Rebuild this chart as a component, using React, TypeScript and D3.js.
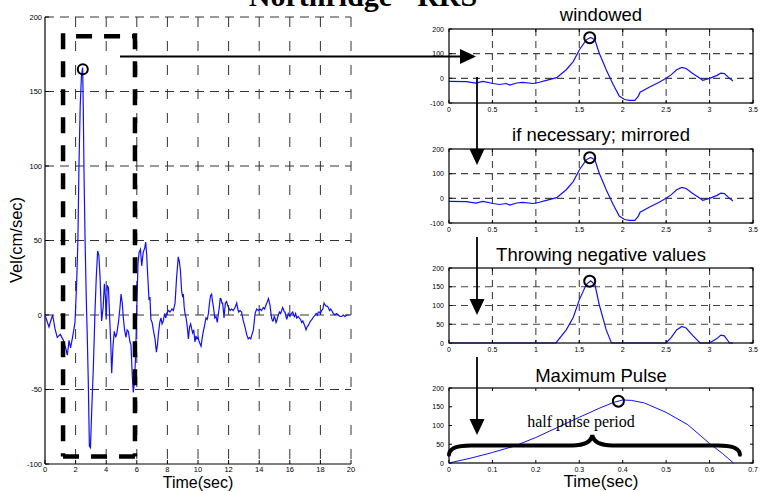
import React from "react";
import * as d3 from "d3";

// ---- data ----
const velTime = [
  0, 0.26, 0.4, 0.5, 0.65, 0.8, 1.0, 1.2, 1.35, 1.46, 1.57, 1.67, 1.8, 1.96, 2.07, 2.15, 2.22, 2.3, 2.38, 2.46,
  2.5, 2.55, 2.62, 2.7, 2.76, 2.83, 2.9, 2.97, 3.05, 3.16, 3.27, 3.35, 3.44, 3.52, 3.6, 3.7, 3.8, 3.88, 3.95, 4.0,
  4.07, 4.15, 4.22, 4.3, 4.36, 4.45, 4.53, 4.62, 4.7, 4.8, 4.9, 4.97, 5.05, 5.12, 5.2, 5.29, 5.37, 5.45, 5.55, 5.62,
  5.7, 5.77, 5.85, 5.93, 6.0, 6.08, 6.15, 6.24, 6.32, 6.42, 6.52, 6.58, 6.65, 6.71, 6.8, 6.86, 6.92, 7.0, 7.08, 7.19,
  7.28, 7.35, 7.41, 7.5, 7.58, 7.65, 7.73, 7.82, 7.9, 7.95, 8.08, 8.17, 8.3, 8.39, 8.5, 8.6, 8.71, 8.78, 8.85, 8.93,
  9.0, 9.04, 9.1, 9.15, 9.22, 9.3, 9.37, 9.45, 9.52, 9.58, 9.65, 9.72, 9.8, 9.87, 9.93, 10.0, 10.08, 10.2, 10.28, 10.35,
  10.45, 10.52, 10.6, 10.68, 10.75, 10.82, 10.89, 10.95, 11.0, 11.1, 11.18, 11.26, 11.32, 11.39, 11.45, 11.5, 11.56, 11.61, 11.67, 11.7,
  11.75, 11.79, 11.87, 11.95, 12.1, 12.2, 12.3, 12.42, 12.53, 12.6, 12.66, 12.75, 12.85, 12.96, 13.07, 13.18, 13.28, 13.36, 13.45, 13.5,
  13.62, 13.68, 13.73, 13.83, 13.94, 14.05, 14.15, 14.27, 14.35, 14.42, 14.5, 14.6, 14.65, 14.7, 14.76, 14.81, 14.87, 14.92, 14.98, 15.03,
  15.1, 15.14, 15.22, 15.32, 15.4, 15.47, 15.53, 15.58, 15.64, 15.69, 15.75, 15.8, 15.85, 15.9, 16.01, 16.1, 16.19, 16.25, 16.3, 16.38,
  16.45, 16.55, 16.62, 16.7, 16.78, 16.85, 16.93, 17.0, 17.06, 17.13, 17.21, 17.3, 17.36, 17.45, 17.5, 17.58, 17.65, 17.72, 17.8, 17.87,
  17.93, 18.0, 18.08, 18.16, 18.24, 18.3, 18.37, 18.45, 18.52, 18.6, 18.67, 18.74, 18.85, 18.95, 19.05, 19.17, 19.28, 19.39, 19.5, 19.6,
  19.75, 19.89,
];
const velValue = [
  0, -8, -3, 0, -9, -15, -13, -17, -22, -27, -17, -22, -15, -5, 22, 50, 100, 140, 160, 166,
  140, 95, 50, 10, -13, -45, -88, -89, -65, -35, 3, 25, 43, 40, 25, -4, 5, 21, 12, -3,
  20, 18, 0, -20, -39, -20, -11, -15, -12, -5, 5, 14, 8, -2, -10, -15, -10, -11, -18, -20,
  -40, -52, -45, -25, 5, 35, 42, 44, 33, 42, 45, 49, 40, 27, 10, 12, -3, -5, -10, -16,
  -25, -20, -13, -5, -2, -6, -4, 1, -2, 1, 3, 2, 4, 3, 8, 25, 39, 36, 30, 16,
  12, 14, 5, 1, -2, -8, -16, -8, -6, -9, -12, -10, -18, -14, -16, -15, -18, -21, -15, -11,
  -6, -2, -3, 1, 8, 13, 14, 9, 6, -2, -1, -5, 0, 5, 11, 11, 8, 8, 2, -2,
  4, 8, 9, 6, 3, 4, 3, 5, 8, 4, 2, 3, 2, -4, -8, -13, -16, -15, -16, -14,
  -10, -4, 1, 4, 3, 4, 3, 5, 4, 6, 8, 11, 9, 7, 2, -2, -4, -4, -1, -2,
  -5, -4, -1, 2, 1, 3, 5, 4, 2, 2, -1, -3, -1, 1, -1, 1, 2, 0, -1, 1,
  -2, -1, -2, -3, -5, -4, -6, -8, -10, -8, -7, -5, -4, -3, -2, -1, 0, 1, 0, 2,
  2, 1, 3, 4, 8, 7, 6, 6, 5, 3, 4, 3, 1, 0, 1, 0, -1, -1, 0, -1,
  0, 0,
];

const winTime = [
  0, 0.2, 0.31, 0.39, 0.51, 0.58, 0.66, 0.7, 0.78, 0.85, 0.97, 1.04, 1.12, 1.24, 1.35, 1.43, 1.5, 1.58, 1.63, 1.68,
  1.73, 1.81, 1.89, 1.96, 2.02, 2.08, 2.14, 2.18, 2.2, 2.31, 2.42, 2.5, 2.56, 2.62, 2.68, 2.73, 2.81, 2.89, 2.92, 3.0,
  3.08, 3.13, 3.17, 3.23, 3.27,
];
const winValue = [
  -12, -13, -19, -12, -21, -25, -21, -27, -19, -16, -21, -16, -8, 3, 35, 68, 115, 156, 166, 156,
  102, 35, -25, -72, -86, -89, -89, -72, -56, -35, -16, 0, 15, 35, 44, 40, 19, 0, -8, 0,
  11, 21, 19, 0, -11,
];
// negative values thrown away (zero crossings kept)
const posTime = [0, 1.23, 1.24, 1.35, 1.43, 1.5, 1.58, 1.63, 1.68, 1.73, 1.81, 1.87, 2.5, 2.56, 2.62, 2.68, 2.73, 2.81, 2.89, 3.0, 3.08, 3.13, 3.17, 3.23, 3.27];
const posValue = [0, 0, 3, 35, 68, 115, 156, 166, 156, 102, 35, 0, 0, 15, 35, 44, 40, 19, 0, 0, 11, 21, 19, 0, 0];

const pulseTime = [0, 0.05, 0.1, 0.15, 0.2, 0.25, 0.3, 0.35, 0.38, 0.4, 0.42, 0.45, 0.5, 0.55, 0.6, 0.63, 0.655];
const pulseValue = [0, 13, 28, 45, 68, 95, 122, 148, 162, 168, 167, 160, 135, 102, 52, 25, 0];

const leftXTicks = [0, 2, 4, 6, 8, 10, 12, 14, 16, 18, 20];
const leftYTicks = [-100, -50, 0, 50, 100, 150, 200];
const winXTicks = [0, 0.5, 1, 1.5, 2, 2.5, 3, 3.5];
const winYTicks = [-100, 0, 100, 200];
const posYTicks = [0, 50, 100, 150, 200];
const pulseXTicks = [0, 0.1, 0.2, 0.3, 0.4, 0.5, 0.6, 0.7];

const leftPeak = [2.47, 165];
const winPeak = [1.62, 165];
const pulsePeak = [0.39, 165];
const windowBox = [1.18, 5.88, -95, 187]; // t0, t1, vBottom, vTop

const sans = "'Liberation Sans', Arial, sans-serif";
const serif = "'Liberation Serif', 'Times New Roman', serif";
const BLUE = "#1010ff";

function LeftPanel() {
  const x = d3.scaleLinear().domain([0, 20]).range([45, 351]);
  const y = d3.scaleLinear().domain([-100, 200]).range([464, 17]);
  const line = d3.line<number>().x((d, i) => x(velTime[i])).y((d) => y(d));
  const [t0, t1, vb, vt] = windowBox;
  const thick = { stroke: "#000", strokeWidth: 4.5, strokeDasharray: "16,12", fill: "none" };
  return (
    <g>
      {/* grid */}
      {leftXTicks.slice(1).map((t) => (
        <line key={"gx" + t} x1={x(t)} x2={x(t)} y1={y(200)} y2={y(-100)} stroke="#333" strokeWidth={1} strokeDasharray="10,14" />
      ))}
      {leftYTicks.slice(1).map((v) => (
        <line key={"gy" + v} x1={x(0)} x2={x(20)} y1={y(v)} y2={y(v)} stroke="#333" strokeWidth={1} strokeDasharray="9,6" />
      ))}
      {/* axes */}
      <line x1={x(0)} x2={x(0)} y1={y(200)} y2={y(-100)} stroke="#000" strokeWidth={1.2} />
      <line x1={x(0)} x2={x(20)} y1={y(-100)} y2={y(-100)} stroke="#000" strokeWidth={1.2} />
      {leftXTicks.map((t) => (
        <g key={"tx" + t}>
          <line x1={x(t)} x2={x(t)} y1={y(-100)} y2={y(-100) - 4} stroke="#000" />
          <text x={x(t)} y={472} fontSize={7.5} textAnchor="middle" fontFamily={sans}>{t}</text>
        </g>
      ))}
      {leftYTicks.map((v) => (
        <g key={"ty" + v}>
          <line x1={x(0)} x2={x(0) + 4} y1={y(v)} y2={y(v)} stroke="#000" />
          <text x={42} y={y(v) + 2.5} fontSize={7.5} textAnchor="end" fontFamily={sans}>{v}</text>
        </g>
      ))}
      <path d={line(velValue) || ""} fill="none" stroke={BLUE} strokeWidth={1.2} />
      <circle cx={x(leftPeak[0])} cy={y(leftPeak[1])} r={5} fill="none" stroke="#000" strokeWidth={2} />
      {/* window box */}
      <line x1={x(t0)} x2={x(t0)} y1={y(vt) - 3} y2={y(vb)} style={thick} />
      <line x1={x(t1)} x2={x(t1)} y1={y(vt) - 3} y2={y(vb)} style={thick} />
      <line x1={x(t0) + 13} x2={x(t1)} y1={y(vt)} y2={y(vt)} style={thick} />
      <line x1={x(t0)} x2={x(t1)} y1={y(vb)} y2={y(vb)} style={thick} />
      <text x={198} y={488} fontSize={16} textAnchor="middle" fontFamily={sans}>Time(sec)</text>
      <text transform="translate(22,240) rotate(-90)" fontSize={16.5} textAnchor="middle" fontFamily={sans}>Vel(cm/sec)</text>
    </g>
  );
}

type PanelProps = {
  top: number;
  bottom: number;
  xMax: number;
  yMin: number;
  xTicks: number[];
  yTicks: number[];
  gridY: number[];
  grid: boolean;
  title: string;
  titleY: number;
  times: number[];
  values: number[];
  peak: number[];
  lineWidth?: number;
};

function Panel(p: PanelProps) {
  const x = d3.scaleLinear().domain([0, p.xMax]).range([449, 753]);
  const y = d3.scaleLinear().domain([p.yMin, 200]).range([p.bottom, p.top]);
  const line = d3.line<number>().x((d, i) => x(p.times[i])).y((d) => y(d));
  return (
    <g>
      <text x={601} y={p.titleY} fontSize={18.5} textAnchor="middle" fontFamily={sans}>{p.title}</text>
      {p.grid &&
        p.xTicks.slice(1, -1).map((t) => (
          <line key={"gx" + t} x1={x(t)} x2={x(t)} y1={p.top} y2={p.bottom} stroke="#444" strokeWidth={1.1} strokeDasharray="7,5" />
        ))}
      {p.grid &&
        p.gridY.map((v) => (
          <line key={"gy" + v} x1={449} x2={753} y1={y(v)} y2={y(v)} stroke="#444" strokeWidth={1.1} strokeDasharray="7,5" />
        ))}
      {p.xTicks.map((t) => (
        <g key={"tx" + t}>
          <line x1={x(t)} x2={x(t)} y1={p.bottom} y2={p.bottom - 3} stroke="#000" />
          <line x1={x(t)} x2={x(t)} y1={p.top} y2={p.top + 3} stroke="#000" />
          <text x={x(t)} y={p.bottom + 8.5} fontSize={7} textAnchor="middle" fontFamily={sans}>{t}</text>
        </g>
      ))}
      {p.yTicks.map((v) => (
        <g key={"ty" + v}>
          <line x1={449} x2={452} y1={y(v)} y2={y(v)} stroke="#000" />
          <line x1={753} x2={750} y1={y(v)} y2={y(v)} stroke="#000" />
          <text x={444} y={y(v) + 2.5} fontSize={7} textAnchor="end" fontFamily={sans}>{v}</text>
        </g>
      ))}
      <path d={line(p.values) || ""} fill="none" stroke={BLUE} strokeWidth={p.lineWidth ?? 1.2} />
      <rect x={449} y={p.top} width={304} height={p.bottom - p.top} fill="none" stroke="#000" strokeWidth={1.2} />
      <circle cx={x(p.peak[0])} cy={y(p.peak[1])} r={5.5} fill="none" stroke="#000" strokeWidth={2} />
    </g>
  );
}

function Arrow({ x1, y1, x2, y2 }: { x1: number; y1: number; x2: number; y2: number }) {
  const ang = Math.atan2(y2 - y1, x2 - x1);
  const L = 16, Hw = 7.5;
  const bx = x2 - L * Math.cos(ang), by = y2 - L * Math.sin(ang);
  const px = -Math.sin(ang) * Hw, py = Math.cos(ang) * Hw;
  return (
    <g>
      <line x1={x1} y1={y1} x2={bx} y2={by} stroke="#000" strokeWidth={1.8} />
      <polygon points={`${x2},${y2} ${bx + px},${by + py} ${bx - px},${by - py}`} fill="#000" />
    </g>
  );
}

function PulseExtras() {
  const x = d3.scaleLinear().domain([0, 0.7]).range([449, 753]);
  const y = d3.scaleLinear().domain([0, 200]).range([463, 388]);
  const x0 = x(0), x1 = x(0.67), xm = x(0.33);
  const yb = y(47), ye = y(22), yt = y(74);
  const d = `M${x0},${ye} Q${x0},${yb} ${x0 + 22},${yb} L${xm - 20},${yb} Q${xm - 2},${yb} ${xm},${yt} Q${xm + 2},${yb} ${xm + 20},${yb} L${x1 - 22},${yb} Q${x1},${yb} ${x1},${ye}`;
  return (
    <g>
      <path d={d} fill="none" stroke="#000" strokeWidth={4} strokeLinecap="round" />
      <text x={581} y={427} fontSize={16} textAnchor="middle" fontFamily={serif}>half pulse period</text>
      <text x={601} y={487} fontSize={17} textAnchor="middle" fontFamily={sans}>Time(sec)</text>
    </g>
  );
}

export default function App() {
  return (
    <svg width={760} height={491} style={{ position: "absolute", left: 0, top: 0, background: "#fff" }}>
      <text x={363} y={6} fontSize={30} fontWeight="bold" textAnchor="middle" fontFamily={serif}>Northridge - RRS</text>
      <LeftPanel />
      <Panel top={29} bottom={103} xMax={3.5} yMin={-100} xTicks={winXTicks} yTicks={winYTicks} gridY={[0, 100]} grid
        title="windowed" titleY={21} times={winTime} values={winValue} peak={winPeak} />
      <Panel top={149} bottom={223} xMax={3.5} yMin={-100} xTicks={winXTicks} yTicks={winYTicks} gridY={[0, 100]} grid
        title="if necessary; mirrored" titleY={141} times={winTime} values={winValue} peak={winPeak} />
      <Panel top={268} bottom={343} xMax={3.5} yMin={0} xTicks={winXTicks} yTicks={posYTicks} gridY={[50, 100, 150]} grid
        title="Throwing negative values" titleY={261} times={posTime} values={posValue} peak={winPeak} />
      <Panel top={388} bottom={463} xMax={0.7} yMin={0} xTicks={pulseXTicks} yTicks={posYTicks} gridY={[]} grid={false}
        title="Maximum Pulse" titleY={382} times={pulseTime} values={pulseValue} peak={pulsePeak} lineWidth={1} />
      <PulseExtras />
      <Arrow x1={120} y1={56.5} x2={476} y2={56.5} />
      <Arrow x1={477} y1={77} x2={477} y2={165} />
      <Arrow x1={477} y1={237} x2={477} y2={315} />
      <Arrow x1={477} y1={357} x2={477} y2={435} />
    </svg>
  );
}
